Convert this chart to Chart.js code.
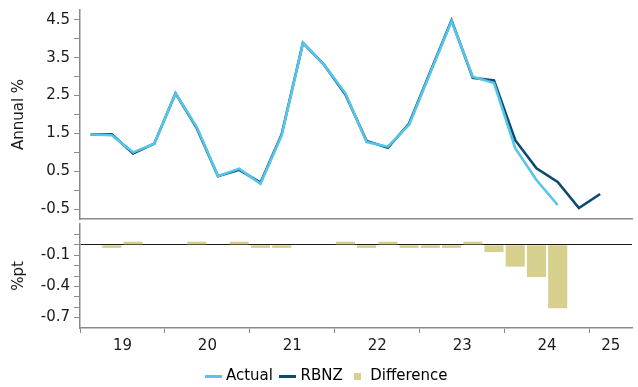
<!DOCTYPE html>
<html>
<head>
<meta charset="utf-8">
<script src="https://cdn.jsdelivr.net/npm/chart.js@4"></script>
<style>
    body { margin: 0; background: #fff; }
    .panel { position: absolute; left: 0; width: 638px; }
    #top-wrap { top: 0; height: 220px; }
    #bottom-wrap { top: 222px; height: 165px; }
</style>
</head>
<body>
<div class="panel" id="top-wrap"><canvas id="chart-top"></canvas></div>
<div class="panel" id="bottom-wrap"><canvas id="chart-bottom"></canvas></div>
<script>
// Quarterly categories, Mar-19 .. Jun-25
const quarters = [
    'Mar-19', 'Jun-19', 'Sep-19', 'Dec-19',
    'Mar-20', 'Jun-20', 'Sep-20', 'Dec-20',
    'Mar-21', 'Jun-21', 'Sep-21', 'Dec-21',
    'Mar-22', 'Jun-22', 'Sep-22', 'Dec-22',
    'Mar-23', 'Jun-23', 'Sep-23', 'Dec-23',
    'Mar-24', 'Jun-24', 'Sep-24', 'Dec-24',
    'Mar-25', 'Jun-25'
];

// Annual %
const actual = [1.47, 1.45, 1.00, 1.23, 2.56, 1.67, 0.37, 0.57, 0.17, 1.45, 3.89, 3.31, 2.56, 1.27, 1.15, 1.73, 3.10, 4.46, 3.00, 2.83, 1.11, 0.27, -0.39];
const rbnz = [1.47, 1.48, 0.97, 1.23, 2.56, 1.64, 0.37, 0.54, 0.20, 1.48, 3.89, 3.31, 2.53, 1.30, 1.12, 1.76, 3.13, 4.49, 2.97, 2.90, 1.32, 0.58, 0.22, -0.47, -0.10];
// %pt
const difference = [0, -0.03, 0.03, 0, 0, 0.03, 0, 0.03, -0.03, -0.03, 0, 0, 0.03, -0.03, 0.03, -0.03, -0.03, -0.03, 0.03, -0.07, -0.21, -0.31, -0.61];

// Tick positions and which of them get a label
const topTicks = [-0.5, 0, 0.5, 1, 1.5, 2, 2.5, 3, 3.5, 4, 4.5];
const topTickLabels = [-0.5, 0.5, 1.5, 2.5, 3.5, 4.5];
const bottomTicks = [-0.7, -0.6, -0.5, -0.4, -0.3, -0.2, -0.1, 0, 0.1];
const bottomTickLabels = [-0.1, -0.4, -0.7];

const C_ACTUAL = '#55c6ea';
const C_RBNZ = '#0c4a6e';
const C_DIFF = '#d6cf8e';
const AXIS = '#8a8a8a';
const FONT = { family: 'DejaVu Sans', size: 15 };

Chart.defaults.font.family = 'DejaVu Sans';
Chart.defaults.color = '#1a1a1a';

function hasLabel(list, v) {
    return list.some(x => Math.abs(x - v) < 1e-6);
}

function yAxis(min, max, ticks, labels, title, zeroLine) {
    return {
        min: min, max: max,
        afterBuildTicks: s => { s.ticks = ticks.map(v => ({ value: v })); },
        afterFit: s => { s.width = 80; s.paddingTop = 0; s.paddingBottom = 0; },
        ticks: {
            font: FONT, padding: 4, autoSkip: false,
            callback: v => hasLabel(labels, v) ? v.toFixed(1) : ''
        },
        grid: {
            drawOnChartArea: !!zeroLine,
            color: c => (zeroLine && c.tick && Math.abs(c.tick.value) < 1e-6) ? '#1a1a1a' : 'rgba(0,0,0,0)',
            tickColor: AXIS, tickLength: 6, lineWidth: 1
        },
        border: { color: AXIS, width: 1.5 },
        title: { display: true, text: title, font: FONT, padding: { top: 10, bottom: 0 } }
    };
}

// small legend markers
function marker(w, h, color) {
    const c = document.createElement('canvas');
    c.width = w; c.height = h;
    const g = c.getContext('2d');
    g.fillStyle = color;
    g.fillRect(0, 0, w, h);
    return c;
}

// Top panel - lines
new Chart(document.getElementById('chart-top'), {
    type: 'line',
    data: {
        labels: quarters,
        datasets: [
            { label: 'Actual', data: actual, borderColor: C_ACTUAL, borderWidth: 2.6, pointRadius: 0, tension: 0 },
            { label: 'RBNZ', data: rbnz, borderColor: C_RBNZ, borderWidth: 2.6, pointRadius: 0, tension: 0 }
        ]
    },
    options: {
        responsive: true, maintainAspectRatio: false, animation: false,
        layout: { padding: { top: 10, right: 6, bottom: 1, left: 0 } },
        plugins: { legend: { display: false }, tooltip: { enabled: false } },
        scales: {
            x: {
                offset: true,
                afterFit: s => { s.height = 0; s.paddingLeft = 0; s.paddingRight = 0; },
                ticks: { display: false },
                grid: { display: false, offset: true },
                border: { color: AXIS, width: 1.5 }
            },
            y: yAxis(-0.76, 4.76, topTicks, topTickLabels, 'Annual %', false)
        }
    }
});

// Bottom panel - difference bars
new Chart(document.getElementById('chart-bottom'), {
    type: 'bar',
    data: {
        labels: quarters,
        datasets: [
            { label: 'Difference', data: difference, backgroundColor: C_DIFF, borderWidth: 0, barPercentage: 0.9, categoryPercentage: 1.0 }
        ]
    },
    options: {
        responsive: true, maintainAspectRatio: false, animation: false,
        layout: { padding: { top: 2, right: 6, bottom: 0, left: 0 } },
        plugins: {
            tooltip: { enabled: false },
            legend: {
                position: 'bottom',
                onClick: null,
                labels: {
                    usePointStyle: true, pointStyleWidth: 10, padding: 10,
                    font: FONT, color: '#1a1a1a',
                    generateLabels: () => [
                        { text: 'Actual', pointStyle: marker(17, 3, C_ACTUAL), fillStyle: C_ACTUAL, strokeStyle: C_ACTUAL, lineWidth: 0 },
                        { text: 'RBNZ', pointStyle: marker(17, 3, C_RBNZ), fillStyle: C_RBNZ, strokeStyle: C_RBNZ, lineWidth: 0 },
                        { text: 'Difference', pointStyle: marker(7, 7, C_DIFF), fillStyle: C_DIFF, strokeStyle: C_DIFF, lineWidth: 0 }
                    ]
                }
            }
        },
        scales: {
            x: {
                offset: true,
                afterFit: s => { s.height = 24; s.paddingLeft = 0; s.paddingRight = 0; },
                ticks: {
                    font: FONT, autoSkip: false, maxRotation: 0, padding: 4,
                    labelOffset: -10.6,
                    callback: (v, i) => (i % 4 === 2 || i === quarters.length - 1) ? quarters[i].slice(-2) : ''
                },
                grid: {
                    offset: true, drawOnChartArea: false, tickLength: 5,
                    tickColor: c => (c.index % 4 === 0 && c.index < quarters.length) ? AXIS : 'rgba(0,0,0,0)'
                },
                border: { color: AXIS, width: 1.5 }
            },
            y: yAxis(-0.8, 0.2, bottomTicks, bottomTickLabels, '%pt', true)
        }
    },
    plugins: [{
        id: 'legendNudge',
        afterLayout(chart) {
            const lg = chart.legend;
            lg.left += 12; lg.right += 12;
            lg.top += 7; lg.bottom += 7;
        }
    }]
});
</script>
</body>
</html>
